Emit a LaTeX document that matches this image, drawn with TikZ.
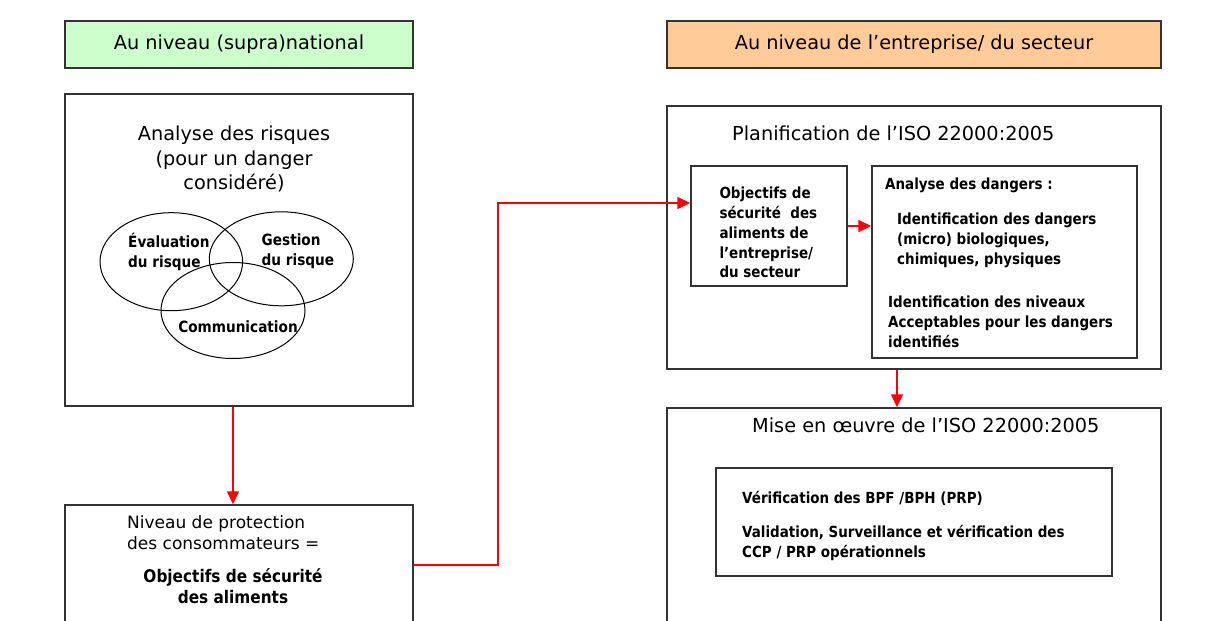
\documentclass[tikz,border=0pt]{standalone}
\usepackage{fontspec}
\setmainfont{DejaVu Sans}
\newfontfamily\bsf[FakeStretch=0.88]{DejaVu Sans}
\usetikzlibrary{arrows.meta}
\definecolor{hdrgreen}{HTML}{CCFFCC}
\definecolor{hdrorange}{HTML}{FFCC99}
\definecolor{edgegray}{HTML}{333333}
\begin{document}
\begin{tikzpicture}[x=1pt,y=-1pt,
  box/.style={draw=edgegray,line width=1.4pt,inner sep=0pt,anchor=center},
  arr/.style={draw=red,line width=1.4pt,-{Triangle[length=13pt,width=12pt,fill=red]}},
  big/.style={font=\fontsize{19.3}{24.5}\selectfont},
  reg/.style={font=\fontsize{17}{21}\selectfont},
  bld/.style={font=\bsf\bfseries\fontsize{15.3}{19.8}\selectfont},
  bldl/.style={font=\bsf\bfseries\fontsize{17.4}{21}\selectfont},
  txt/.style={inner sep=0pt,anchor=west,align=left},
  venn/.style={draw=black,line width=1pt}
]
\useasboundingbox (0,0) rectangle (1213,621);
\fill[white] (0,0) rectangle (1213,621);

% headers
\node[box,fill=hdrgreen,minimum width=348pt,minimum height=47pt,big] (hdrL) at (239,44.5) {Au niveau (supra)national};
\node[box,fill=hdrorange,minimum width=494pt,minimum height=47pt,big] (hdrR) at (914,44.5) {Au niveau de l’entreprise/ du secteur};

% left column
\node[box,minimum width=348pt,minimum height=312pt] (risk) at (239,250) {};
\node[inner sep=0pt,align=center,font=\fontsize{19.3}{24.5}\selectfont] (risktitle) at (234,159) {Analyse des risques\\(pour un danger\\considéré)};
\draw[venn] (171.3,261.7) ellipse [x radius=71.3, y radius=49];
\draw[venn] (281.3,258.8) ellipse [x radius=72, y radius=47];
\draw[venn] (233,310.5) ellipse [x radius=72, y radius=48];
\node[txt,bld,font=\bsf\bfseries\fontsize{15.5}{20}\selectfont] (eval) at (128,251.5) {Évaluation\\du risque};
\node[txt,bld,font=\bsf\bfseries\fontsize{15.5}{20}\selectfont] (gest) at (261.5,251.5) {Gestion\\du risque};
\node[inner sep=0pt,font=\bsf\bfseries\fontsize{15.5}{20}\selectfont] (comm) at (238,326.7) {Communication};

\node[box,minimum width=348pt,minimum height=120pt] (niv) at (239,565) {};
\node[txt,reg] (nivtxt) at (127,532.5) {Niveau de protection\\des consommateurs =};
\node[inner sep=0pt,align=center,bldl] (osa) at (233,586.5) {Objectifs de sécurité\\des aliments};

% right column
\node[box,minimum width=494pt,minimum height=263pt] (plan) at (914,237.5) {};
\node[txt,big] (plantitle) at (732,133) {Planification de l’ISO 22000:2005};
\node[box,minimum width=156pt,minimum height=120pt] (obj) at (769,226) {};
\node[txt,bld] (objtxt) at (719.3,232.5) {Objectifs de\\sécurité~ des\\aliments de\\l’entreprise/\\du secteur};
\node[box,minimum width=265pt,minimum height=192pt] (dang) at (1004.5,262) {};
\node[txt,bld] (dangtitle) at (885,185) {Analyse des dangers :};
\node[txt,bld] (dang1) at (897,240.5) {Identification des dangers\\(micro) biologiques,\\chimiques, physiques};
\node[txt,bld] (dang2) at (888,322) {Identification des niveaux\\Acceptables pour les dangers\\identifiés};

\node[box,minimum width=494pt,minimum height=222pt] (mise) at (914,519) {};
\node[txt,big] (misetitle) at (752,425) {Mise en œuvre de l’ISO 22000:2005};
\node[box,minimum width=396pt,minimum height=108pt] (inner) at (914,522) {};
\node[txt,bld] (verif) at (742,498) {Vérification des BPF /BPH (PRP)};
\node[txt,bld] (valid) at (742,543) {Validation, Surveillance et vérification des\\CCP / PRP opérationnels};

% connectors
\coordinate (bend) at (498,203);
\draw[arr] ([xshift=-6pt]risk.south) -- ([xshift=-6pt]niv.north);
\draw[arr] (niv.east) -- (niv.east -| bend) -- (bend) -- (obj.west |- bend);
\draw[arr] (obj.east) -- (obj.east -| dang.west);
\draw[arr] ([xshift=-17pt]plan.south) -- ([xshift=-17pt]plan.south |- mise.north);
\end{tikzpicture}
\end{document}
